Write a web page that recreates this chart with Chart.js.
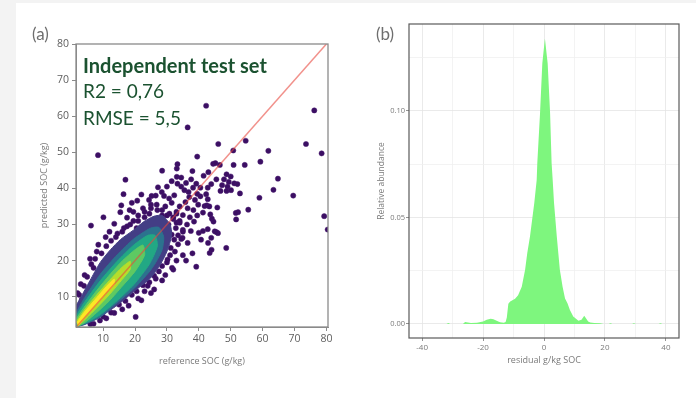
<!DOCTYPE html>
<html>
<head>
<meta charset="utf-8">
<script src="https://cdn.jsdelivr.net/npm/chart.js@4.4.1/dist/chart.umd.min.js"></script>
<style>
  body { margin: 0; background: #f3f3f3; width: 696px; height: 398px; overflow: hidden; position: relative; }
  .card { position: absolute; left: 16px; top: 3px; right: 0; bottom: 0; background: #fff; }
  #scatterBox { position: absolute; left: 0; top: 0; width: 340px; height: 398px; }
  #densityBox { position: absolute; left: 345px; top: 0; width: 351px; height: 398px; }
</style>
</head>
<body>
<div class="card"></div>
<div id="scatterBox"><canvas id="socScatter" width="340" height="398"></canvas></div>
<div id="densityBox"><canvas id="residualDensity" width="351" height="398"></canvas></div>
<script>
// ---- panel (a): predicted vs reference SOC ----
const scatterRangeX = [1.5, 80.5];
const scatterRangeY = [1.6, 80];
const scatterTicksX = [10, 20, 30, 40, 50, 60, 70, 80];
const scatterTicksY = [10, 20, 30, 40, 50, 60, 70, 80];
const oneToOne = [[0, 0], [80, 80]];

// density bands of the point cloud, outer to inner (polygon outlines)
const bandOuter = [[1.5,7.5],[2.8,9.5],[5.9,14.5],[9.1,19.5],[12.3,23],[15.4,25.8],[19.6,28.5],[22.8,30.8],[26,32.3],[28.5,32.5],
  [31,30],[31.5,27],[30,22.5],[28,19],[24.9,15.2],[19.6,11.4],[14.4,7.6],[8,3.8],[4,2.2],[1.5,1.6]];
const bandBlue = [[1.5,5.5],[3.8,9.1],[9.1,16.2],[14.4,21.6],[19.6,26],[24.9,29],[27.5,29.2],
  [29,26.5],[28.5,23],[26.5,19.5],[24.4,16.8],[19.6,12.2],[14.4,8.3],[9.1,4.4],[4.5,2.5],[1.5,1.6]];
const bandTeal = [[1.5,4.5],[3.8,8],[9.1,14.4],[14.4,19.8],[19.6,24.3],[24,27],[26.3,27],
  [27,24],[24.5,19],[19.6,13.3],[14.4,8.9],[9.1,5],[4.5,2.7],[1.6,1.6]];
const bandGreen = [[1.5,3.8],[4,7],[8,11.7],[12,16],[16,19.9],[20,23],[22.5,24.3],
  [23,21.5],[20,17],[16,12.9],[12,8.9],[8,5.6],[4.5,3],[1.8,1.6]];
const bandLime = [[1.6,3.1],[4,6.2],[8,10.5],[12,14.5],[16,18.2],[18.5,19.8],
  [18.5,17.6],[16,14.8],[12,10.6],[8,6.9],[4.5,3.8],[2,1.8]];
const bandYellow = [[1.8,2.8],[4,5.6],[8,9.7],[11,12.8],[13.5,14.9],
  [13.5,13.4],[11,11],[8,7.9],[4.5,4.5],[2.3,2]];

// single (low density) samples
const sparsePoints = [
  [8.4,49.2],[42.3,62.9],[36.5,56.9],[76.2,61.6],[73.6,52.3],[78.5,49.7],[46.1,52.3],[54.7,53.2],[50.8,50.5],[61.8,50.4],
  [59.3,47.4],[54.4,46.5],[50.9,46.5],[39.5,48.8],[44.5,46.8],[45.2,47],[46.6,46.5],[33.3,46.7],[28.5,44.9],[17,42.4],
  [64.8,42.7],[63.4,39.6],[69.6,38],[59,37.4],[55.5,34.1],[52.3,33.4],[51.6,33.2],[51.7,31.4],[79.3,32.3],[80.4,28.6],
  [16.4,38.4],[20.7,36.6],[10.1,32],[6.2,29.7],[5.9,20.5],[20.2,4.4],[39.2,18.3],[48.6,23.5],[43.4,22.1],[42.9,24.9],
  [43.9,26.3],[45,28.1],[46,27.6],[36.5,24.9],[34.9,26.3],[32.3,25.8],[31.2,23.5],[31.6,18],[28.1,21.7],[27,19.3],
  [30.2,20.3],[40.7,25.8],[40,27.7],[33.1,45.5],[33.1,43.2],[33.3,41.3],[25.2,37.9],[28.4,39],[29.1,37.9],
  [30.7,37.2],[32.3,38.1],[15.7,35.3],[15.4,33.4],[17.5,31.9],
  [48.7,43.9],[50,43.3],[47.9,42.5],[49.4,41.8],[51.1,41.4],[47.3,40.9],[49,40.5],[52.1,41.2],[46.8,39.3],[48.7,39.3],
  [50.1,39.5],[52.9,38.6],[42.8,40.2],[43.9,41.2],[45.5,42.5],[42.3,38.4],[42.8,37],[41.8,35.1],[42.5,35.3],[43.3,35],
  [45.8,34.7],[41.3,33.3],[43.6,32.8],[44.1,31.6],[44.6,30.8],[45.5,27.9],[42.8,28.7],[41.3,28.2],
  [34.5,40.5],[35.5,39.5],[36.8,39],[38.2,40.2],[39.5,38.5],[37,37.6],[38.8,36.8],[40.5,37.8],[35.8,36.2],[34,35],
  [36.5,34.5],[38.3,34],[39.8,35.5],[33,33.5],[35,32.6],[37.2,32],[39.5,32.5],[32,31.5],[34,30.5],[36.3,30],
  [38.5,30.8],[30.5,30],[32.8,29],[35,28.5],[37.5,28.2],[29.5,28],[31.5,27.2],[33.5,27],[30.8,33],[28.5,32.5],
  [27,34],[29.5,35],[31.5,36],[26,31.5],[27.5,30],[24.5,33],[23,32],[25,35.5],[22.5,34.5],[21,31],
  [19.5,33.5],[18.5,30],[23.8,29.5],[36,41.5],[37.6,42.5],[39.2,41.3],[40.5,40.2],[34.5,43],[41.5,43.5],[43,44.5],
  [38,44.8],[31.5,42],[30,40.5],[27.2,40.3],[26.5,38],[24.4,36.8],[22,38.3],[19,36],[18.3,34],[13.5,30.2],
  [12,28],[10.8,26.5],[8.5,24.4],[8,22.5],[6.3,19],[4.2,16],[3,13.5],[3.3,9.1],[2,11],[14.5,27.5],
  [16.5,29],[20.5,29],[44,23],[38,22],[35,21.5],[33,20],[29.5,16],[26.5,15],[24,13],[23,11.5],
  [21,9.5],[18,7.5],[16,6.5],[13.5,5.5],[11,4],[9,3.4],[7,2.5],[26,12],[28.5,14.5],[32,17.5],
  [36,20],[22,9],[25,11],
  [2.5,10.5],[4,13],[5,15.5],[7,18],[7.5,20.5],[9.5,22],[11,24],[12.5,25.5],[14,26.5],[16,28],
  [17.5,29.5],[19.5,31],[21,32.5],[23,33.5],[25,34.5],[26.8,35.5],[28.5,34],[30,32.5],[32,32],[33,30.5],
  [6,2.4],[10,4.5],[12.5,5.6],[15,7.8],[17,8.8],[19,10.5],[20.5,11.5],[22.5,13.2],[24.5,14],[26,15.8],
  [27.5,17],[28.5,18.5],[30,19.5],[31,21.5],[32.5,22.5],[33.5,24.5],[34.5,26],[35,28],[34,31],[33,33]
];

// ---- panel (b): residual distribution ----
const residualX = [-44, -32, -31.4, -30.8, -26.6, -25.9, -24, -22, -20, -18.8, -17.5, -16.6, -15, -14.4, -13.2, -12.6, -12.2,
  -11.7, -11.1, -10.5, -9.5, -8.5, -7.3, -6.2, -5.5, -4.6, -3.2, -2.4, -2.2, -1.3, -0.55, 0.3, 1.2, 2.0, 2.5, 2.85, 3.3,
  4.2, 4.7, 5.2, 6.1, 6.9, 7.7, 8.5, 9.6, 11.3, 12.3, 13.2, 14.5, 15.2, 16.5, 18.4, 19.5, 21.2, 21.8, 22.4, 28.9, 29.5,
  30.1, 37.6, 38.2, 38.8, 44];
const abundance = [0, 0, 0.0004, 0, 0, 0.0009, 0.0005, 0.0006, 0.0012, 0.002, 0.0024, 0.0022, 0.0011, 0.0008, 0.0006, 0.0009, 0.003,
  0.0095, 0.0105, 0.011, 0.0118, 0.0135, 0.0175, 0.0254, 0.0332, 0.041, 0.0567, 0.0676, 0.0754, 0.0989, 0.1224, 0.134, 0.1224, 0.0989, 0.0754, 0.0676, 0.0567,
  0.041, 0.0332, 0.0254, 0.0175, 0.012, 0.0097, 0.0066, 0.0035, 0.0015, 0.002, 0.0038, 0.0012, 0.0007, 0.0005, 0.0003, 0, 0, 0.0003, 0, 0, 0.0003,
  0, 0, 0.0003, 0, 0];
const densityRangeX = [-44.3, 44.3];
const densityRangeY = [-0.0066, 0.1408];
const densityGridX = [-40, -30, -20, -10, 0, 10, 20, 30, 40];
const densityLabelX = [-40, -20, 0, 20, 40];
const densityGridY = [0, 0.025, 0.05, 0.075, 0.1, 0.125];
const densityLabelY = [0, 0.05, 0.1];

const toXY = (pairs) => pairs.map(([x, y]) => ({ x, y }));

function band(points, color, order) {
    return {
        data: toXY(points),
        showLine: true,
        fill: "shape",
        backgroundColor: color,
        borderColor: color,
        borderWidth: 1,
        tension: 0.2,
        pointRadius: 0,
        order: order,
    };
}

// frame around the plotting area
const frame = (color, width) => ({
    id: "frame",
    afterDatasetsDraw(chart) {
        const { ctx, chartArea: a } = chart;
        ctx.save();
        ctx.strokeStyle = color;
        ctx.lineWidth = width;
        ctx.strokeRect(a.left, a.top, a.right - a.left, a.bottom - a.top);
        ctx.restore();
    },
});

const scatterNotes = {
    id: "scatterNotes",
    afterDraw(chart) {
        const { ctx, scales } = chart;
        const x0 = scales.x.getPixelForValue(3.7);
        ctx.save();
        ctx.fillStyle = "#1b5230";
        ctx.textBaseline = "middle";
        ctx.font = "bold 20px Lato, 'Open Sans', sans-serif";
        ctx.fillText("Independent test set", x0, scales.y.getPixelForValue(73.8));
        ctx.font = "19px Lato, 'Open Sans', sans-serif";
        ctx.fillText("R2 = 0,76", x0, scales.y.getPixelForValue(66.6));
        ctx.fillText("RMSE = 5,5", x0, scales.y.getPixelForValue(59.3));
        ctx.fillStyle = "#6e6e6e";
        ctx.font = "17px Lato, 'Open Sans', sans-serif";
        ctx.fillText("(a)", 32, 35);
        ctx.restore();
    },
};

const densityNotes = {
    id: "densityNotes",
    afterDraw(chart) {
        const { ctx } = chart;
        ctx.save();
        ctx.fillStyle = "#6e6e6e";
        ctx.textBaseline = "middle";
        ctx.font = "17px Lato, 'Open Sans', sans-serif";
        ctx.fillText("(b)", 31, 35);
        ctx.restore();
    },
};

new Chart(document.getElementById("socScatter"), {
    type: "scatter",
    data: {
        datasets: [
            {
                data: toXY(oneToOne),
                showLine: true,
                borderColor: "rgba(232, 72, 62, 0.6)",
                borderWidth: 1.5,
                pointRadius: 0,
                order: 1,
            },
            band(bandYellow, "#fde725", 2),
            band(bandLime, "#b5de2b", 3),
            band(bandGreen, "#5ec962", 4),
            band(bandTeal, "#22a884", 5),
            band(bandBlue, "#2c728e", 6),
            band(bandOuter, "#433e85", 7),
            {
                data: toXY(sparsePoints),
                backgroundColor: "#3b0f63",
                borderColor: "#48186e",
                borderWidth: 0.5,
                pointRadius: 2.6,
                order: 8,
            },
        ],
    },
    options: {
        responsive: false,
        devicePixelRatio: 1,
        animation: false,
        layout: { padding: { left: 0, right: 12, top: 44, bottom: 0 } },
        plugins: { legend: { display: false }, tooltip: { enabled: false } },
        scales: {
            x: {
                type: "linear",
                min: scatterRangeX[0],
                max: scatterRangeX[1],
                afterBuildTicks: (s) => { s.ticks = scatterTicksX.map((v) => ({ value: v })); },
                afterFit: (s) => { s.height = 71; },
                grid: { drawOnChartArea: false, tickLength: 4, tickColor: "#8a8a8a" },
                border: { color: "#8a8a8a" },
                ticks: { color: "#5e5e5e", padding: 2, font: { size: 10.5, family: "'Open Sans', sans-serif" } },
                title: {
                    display: true,
                    text: "reference SOC (g/kg)",
                    color: "#7a7a7a",
                    font: { size: 9, family: "'Open Sans', sans-serif" },
                    padding: { top: 0, bottom: 31 },
                },
            },
            y: {
                type: "linear",
                min: scatterRangeY[0],
                max: scatterRangeY[1],
                afterBuildTicks: (s) => { s.ticks = scatterTicksY.map((v) => ({ value: v })); },
                afterFit: (s) => { s.width = 76; },
                grid: { drawOnChartArea: false, tickLength: 4, tickColor: "#8a8a8a" },
                border: { color: "#8a8a8a" },
                ticks: { color: "#5e5e5e", padding: 3, font: { size: 10.5, family: "'Open Sans', sans-serif" } },
                title: {
                    display: true,
                    text: "predicted SOC (g/kg)",
                    color: "#7a7a7a",
                    font: { size: 9, family: "'Open Sans', sans-serif" },
                    padding: { top: 39, bottom: 0 },
                },
            },
        },
    },
    plugins: [frame("#8a8a8a", 1.3), scatterNotes],
});

new Chart(document.getElementById("residualDensity"), {
    type: "scatter",
    data: {
        datasets: [
            {
                data: residualX.map((x, i) => ({ x, y: abundance[i] })),
                showLine: true,
                fill: "origin",
                backgroundColor: "#7ef67e",
                borderColor: "#7ef67e",
                borderWidth: 0,
                tension: 0,
                pointRadius: 0,
            },
        ],
    },
    options: {
        responsive: false,
        devicePixelRatio: 1,
        animation: false,
        layout: { padding: { left: 0, right: 17, top: 24, bottom: 0 } },
        plugins: { legend: { display: false }, tooltip: { enabled: false } },
        scales: {
            x: {
                type: "linear",
                min: densityRangeX[0],
                max: densityRangeX[1],
                afterBuildTicks: (s) => { s.ticks = densityGridX.map((v) => ({ value: v })); },
                afterFit: (s) => { s.height = 60; },
                grid: {
                    color: (c) => (c.tick && densityLabelX.includes(c.tick.value) ? "#e4e4e4" : "#f0f0f0"),
                    tickColor: (c) => (c.tick && densityLabelX.includes(c.tick.value) ? "#777" : "rgba(0,0,0,0)"),
                    tickLength: 3,
                    lineWidth: 0.8,
                },
                border: { display: false },
                ticks: {
                    color: "#7a7a7a",
                    padding: 2,
                    maxRotation: 0,
                    autoSkip: false,
                    font: { size: 8, family: "'Open Sans', sans-serif" },
                    callback: (v) => (densityLabelX.includes(v) ? String(v) : ""),
                },
                title: {
                    display: true,
                    text: "residual g/kg SOC",
                    color: "#7a7a7a",
                    font: { size: 9, family: "'Open Sans', sans-serif" },
                    padding: { top: 0, bottom: 32 },
                },
            },
            y: {
                type: "linear",
                min: densityRangeY[0],
                max: densityRangeY[1],
                afterBuildTicks: (s) => { s.ticks = densityGridY.map((v) => ({ value: v })); },
                afterFit: (s) => { s.width = 64; },
                grid: {
                    color: (c) => (c.tick && densityLabelY.includes(c.tick.value) ? "#e4e4e4" : "#f0f0f0"),
                    tickColor: (c) => (c.tick && densityLabelY.includes(c.tick.value) ? "#777" : "rgba(0,0,0,0)"),
                    tickLength: 3,
                    lineWidth: 0.8,
                },
                border: { display: false },
                ticks: {
                    color: "#7a7a7a",
                    padding: 1,
                    autoSkip: false,
                    font: { size: 7.5, family: "'Open Sans', sans-serif" },
                    callback: (v) => (densityLabelY.includes(v) ? v.toFixed(2) : ""),
                },
                title: {
                    display: true,
                    text: "Relative abundance",
                    color: "#7a7a7a",
                    font: { size: 8.5, family: "'Open Sans', sans-serif" },
                    padding: { top: 31, bottom: 0 },
                },
            },
        },
    },
    plugins: [frame("#5a5a5a", 1.2), densityNotes],
});
</script>
</body>
</html>
